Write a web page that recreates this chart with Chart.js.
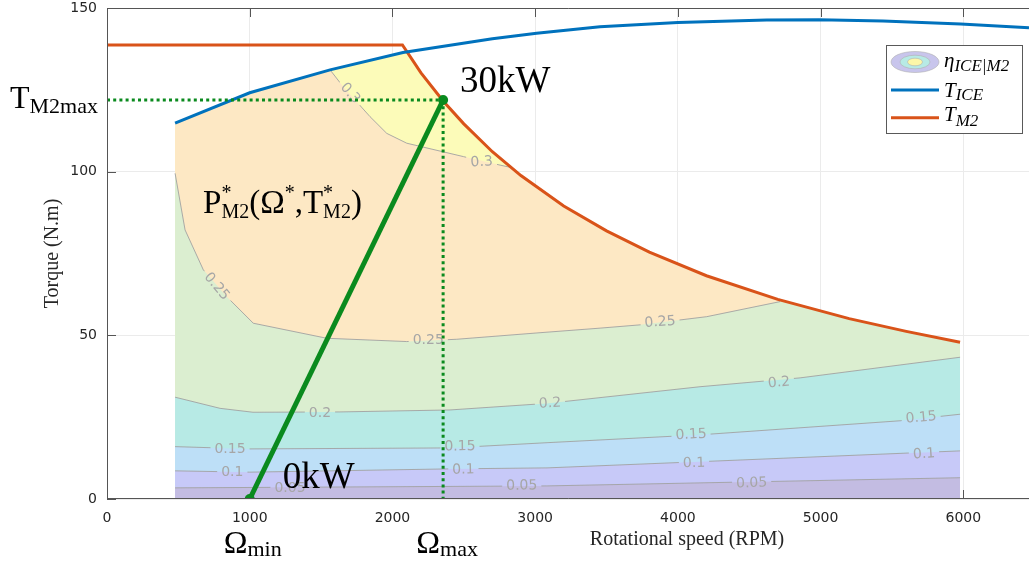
<!DOCTYPE html>
<html>
<head>
<meta charset="utf-8">
<script src="https://cdn.jsdelivr.net/npm/chart.js@4/dist/chart.umd.min.js"></script>
<style>
html,body{margin:0;padding:0;background:#ffffff;}
canvas{display:block;}
</style>
</head>
<body>
<canvas id="c" width="1029" height="565"></canvas>
<script>
// ---------------- data ----------------
const xTicks = [0, 1000, 2000, 3000, 4000, 5000, 6000];
const yTicks = [0, 50, 100, 150];

// ICE torque curve T_ICE
const iceRpm    = [477, 1000, 1563, 2074, 2700, 3010, 3454, 4000, 4622, 4989, 5437, 5981, 6460];
const iceTorque = [114.8, 124.1, 131.1, 136.4, 140.6, 142.3, 144.3, 145.6, 146.3, 146.4, 146.0, 145.1, 144.0];

// M2 torque curve T_M2 (flat then 30 kW constant power)
const m2Rpm    = [0, 2070, 2200, 2355, 2500, 2700, 2900, 3200, 3500, 3800, 4200, 4700, 5200, 5600, 5977];
const m2Torque = [138.7, 138.7, 130.2, 121.6, 114.6, 106.1, 98.8, 89.5, 81.9, 75.4, 68.2, 61.0, 55.1, 51.2, 47.9];

// upper border of the efficiency map
const mapTopRpm    = [477, 1000, 1563, 2100, 2200, 2355, 2500, 2700, 2900, 3200, 3500, 3800, 4200, 4700, 5200, 5600, 5977];
const mapTopTorque = [114.8, 124.1, 131.1, 136.8, 130.2, 121.6, 114.6, 106.1, 98.8, 89.5, 81.9, 75.4, 68.2, 61.0, 55.1, 51.2, 47.9];

// iso-efficiency lines eta_ICE|M2
const iso30Rpm    = [1563, 1654, 1843, 1960, 2100, 2497, 2754, 2830];
const iso30Torque = [131.1, 126.0, 116.8, 111.7, 108.7, 104.6, 102.0, 101.3];
const iso25Rpm    = [477, 547, 675, 839, 1025, 1540, 2100, 2451, 3034, 3455, 3735, 4202, 4716];
const iso25Torque = [99.5, 82.2, 70.0, 61.8, 53.7, 49.1, 48.1, 48.8, 50.8, 52.2, 53.2, 55.7, 60.3];
const iso20Rpm    = [477, 792, 1023, 1632, 2403, 3083, 4155, 4856, 5977];
const iso20Torque = [31.1, 27.7, 26.5, 26.6, 27.2, 29.2, 34.3, 37.0, 43.3];
const iso15Rpm    = [477, 1000, 2403, 3083, 4155, 5557, 5977];
const iso15Torque = [16.0, 15.3, 15.6, 17.2, 19.6, 23.9, 25.9];
const iso10Rpm    = [477, 1000, 2403, 3083, 4155, 5977];
const iso10Torque = [8.6, 8.2, 9.2, 9.5, 11.4, 14.7];
const iso05Rpm    = [477, 3083, 5977];
const iso05Torque = [3.4, 4.0, 6.5];

// operating segment: 0 kW at Omega_min -> 30 kW at (Omega_max, T_M2max)
const opRpm    = [1000, 2355];
const opTorque = [0, 121.9];

// contour labels (value, rpm, torque, text angle in degrees)
const isoLabelText   = ['0.3','0.3','0.25','0.25','0.25','0.2','0.2','0.2','0.15','0.15','0.15','0.15','0.1','0.1','0.1','0.1','0.05','0.05','0.05'];
const isoLabelRpm    = [1703, 2625, 768, 2251, 3875, 1492, 3104, 4709, 862, 2473, 4092, 5704, 878, 2497, 4113, 5725, 1282, 2906, 4517];
const isoLabelTorque = [123.9, 102.9, 64.9, 48.4, 54.0, 26.2, 29.2, 35.5, 15.3, 16.0, 19.6, 24.8, 8.2, 8.9, 10.9, 13.7, 3.3, 4.0, 4.8];
const isoLabelAngle  = [48, -4, 50, 0, -4, 0, -3, -5, 0, -1, -3, -5, 0, -1, -2, -4, 0, -1, -2];

// ---------------- build chart ----------------
const SERIF = '"Liberation Serif", "DejaVu Serif", serif';
const SANS = '"DejaVu Sans", "Liberation Sans", sans-serif';

function pts(xs, ys) { return xs.map((x, i) => ({x: x, y: ys[i]})); }

const mapTop = pts(mapTopRpm, mapTopTorque);
const iso30 = pts(iso30Rpm, iso30Torque);
const iso25 = pts(iso25Rpm, iso25Torque);
const iso20 = pts(iso20Rpm, iso20Torque);
const iso15 = pts(iso15Rpm, iso15Torque);
const iso10 = pts(iso10Rpm, iso10Torque);
const iso05 = pts(iso05Rpm, iso05Torque);

const peachPoly = mapTop.filter(p => p.x < iso30Rpm[0])
  .concat(iso30, mapTop.filter(p => p.x > iso30Rpm[iso30Rpm.length - 1]));
const greenPoly = iso25.concat(mapTop.filter(p => p.x > iso25Rpm[iso25Rpm.length - 1]));

function fillDs(data, color, order) {
  return {data: data, fill: 'origin', backgroundColor: color, borderColor: 'rgba(0,0,0,0)',
          borderWidth: 0, pointRadius: 0, pointHoverRadius: 0, order: order};
}
function isoDs(data, level, order) {
  return {data: data, fill: false, borderColor: '#a2a2a2', borderWidth: 0.9,
          pointRadius: 0, pointHoverRadius: 0, order: order, isoLevel: level};
}

const GREEN = '#0a8a1e';

const datasets = [
  fillDs(mapTop, '#fcfbb9', 100),
  fillDs(peachPoly, '#fde8c4', 99),
  fillDs(greenPoly, '#dbeed0', 98),
  fillDs(iso20, '#b7eae5', 97),
  fillDs(iso15, '#bddff7', 96),
  fillDs(iso10, '#c7c9f8', 95),
  fillDs(iso05, '#c3bce2', 94),
  isoDs(iso30, '0.3', 60),
  isoDs(iso25, '0.25', 59),
  isoDs(iso20, '0.2', 58),
  isoDs(iso15, '0.15', 57),
  isoDs(iso10, '0.1', 56),
  isoDs(iso05, '0.05', 55),
  {label: 'T_M2', data: pts(m2Rpm, m2Torque), borderColor: '#d95319', borderWidth: 3,
   pointRadius: 0, fill: false, order: 11},
  {label: 'T_ICE', data: pts(iceRpm, iceTorque), borderColor: '#0072bd', borderWidth: 3,
   pointRadius: 0, fill: false, order: 10},
  {data: [{x: 0, y: opTorque[1]}, {x: opRpm[1], y: opTorque[1]}], borderColor: GREEN, borderWidth: 3,
   borderDash: [3, 3.2], borderCapStyle: 'butt', pointRadius: 0, fill: false, order: 5},
  {data: [{x: opRpm[1], y: opTorque[1]}, {x: opRpm[1], y: 0}], borderColor: GREEN, borderWidth: 3,
   borderDash: [3, 3.2], borderCapStyle: 'butt', pointRadius: 0, fill: false, order: 4},
  {data: pts(opRpm, opTorque), borderColor: GREEN, borderWidth: 5, pointRadius: 5,
   pointBackgroundColor: GREEN, pointBorderColor: GREEN, pointBorderWidth: 0, fill: false, order: 3}
];

function richText(ctx, x, y, parts) {
  let cx = x;
  let pendingW = 0;
  parts.forEach(p => {
    ctx.font = p.font;
    ctx.fillText(p.t, cx, y + (p.dy || 0));
    const w = ctx.measureText(p.t).width;
    if (p.stack) { pendingW = Math.max(pendingW, w); }
    else { cx += Math.max(w, pendingW); pendingW = 0; }
  });
  return cx - x;
}
function measureRich(ctx, parts) {
  let w = 0, pending = 0;
  parts.forEach(p => {
    ctx.font = p.font;
    const m = ctx.measureText(p.t).width;
    if (p.stack) pending = Math.max(pending, m);
    else { w += Math.max(m, pending); pending = 0; }
  });
  return w;
}

const labelFont = '14px ' + SANS;

const annot = {
  id: 'annot',
  beforeDatasetsDraw(chart) {
    const ctx = chart.ctx, a = chart.chartArea;
    const xs = chart.scales.x, ys = chart.scales.y;
    ctx.save();
    ctx.strokeStyle = '#555555';
    ctx.lineWidth = 1;
    ctx.beginPath();
    xTicks.forEach(v => {
      const px = Math.round(xs.getPixelForValue(v)) + 0.5;
      ctx.moveTo(px, a.top); ctx.lineTo(px, a.top + 9);
      ctx.moveTo(px, a.bottom); ctx.lineTo(px, a.bottom - 9);
    });
    yTicks.forEach(v => {
      const py = Math.round(ys.getPixelForValue(v)) + 0.5;
      ctx.moveTo(a.left, py); ctx.lineTo(a.left + 9, py);
    });
    ctx.stroke();
    ctx.restore();
  },
  beforeDatasetDraw(chart, args) {
    const ds = chart.data.datasets[args.index];
    if (!ds.isoLevel) return;
    const ctx = chart.ctx;
    const xs = chart.scales.x, ys = chart.scales.y;
    ctx.save();
    ctx.font = labelFont;
    ctx.beginPath();
    ctx.rect(0, 0, chart.width, chart.height);
    isoLabelText.forEach((t, i) => {
      if (t !== ds.isoLevel) return;
      const cx = xs.getPixelForValue(isoLabelRpm[i]);
      const cy = ys.getPixelForValue(isoLabelTorque[i]);
      const w = ctx.measureText(t).width + 8, h = 16;
      const ang = isoLabelAngle[i] * Math.PI / 180, c = Math.cos(ang), s = Math.sin(ang);
      const cs = [[-w/2, -h/2], [w/2, -h/2], [w/2, h/2], [-w/2, h/2]]
        .map(([u, v]) => [cx + u * c - v * s, cy + u * s + v * c]);
      ctx.moveTo(cs[0][0], cs[0][1]);
      for (let k = 1; k < 4; k++) ctx.lineTo(cs[k][0], cs[k][1]);
      ctx.closePath();
    });
    ctx.clip('evenodd');
  },
  afterDatasetDraw(chart, args) {
    const ds = chart.data.datasets[args.index];
    if (!ds.isoLevel) return;
    const ctx = chart.ctx;
    ctx.restore();
    const xs = chart.scales.x, ys = chart.scales.y;
    ctx.save();
    ctx.font = labelFont;
    ctx.fillStyle = '#a6a6a6';
    ctx.textAlign = 'center';
    ctx.textBaseline = 'middle';
    isoLabelText.forEach((t, i) => {
      if (t !== ds.isoLevel) return;
      ctx.save();
      ctx.translate(xs.getPixelForValue(isoLabelRpm[i]), ys.getPixelForValue(isoLabelTorque[i]));
      ctx.rotate(isoLabelAngle[i] * Math.PI / 180);
      ctx.fillText(t, 0, 0);
      ctx.restore();
    });
    ctx.restore();
  },
  afterDatasetsDraw(chart) {
    const ctx = chart.ctx, a = chart.chartArea;
    const xs = chart.scales.x, ys = chart.scales.y;
    ctx.save();
    // axes box (left, bottom, top)
    ctx.strokeStyle = '#555555';
    ctx.lineWidth = 1;
    ctx.beginPath();
    const L = Math.round(a.left) + 0.5, B = Math.round(a.bottom) - 0.5, T = Math.round(a.top) + 0.5;
    ctx.moveTo(L, T); ctx.lineTo(L, B); ctx.lineTo(a.right, B);
    ctx.moveTo(L, T); ctx.lineTo(a.right, T);
    ctx.stroke();

    // x axis title
    ctx.fillStyle = '#262626';
    ctx.font = '20px ' + SERIF;
    ctx.textAlign = 'center';
    ctx.textBaseline = 'alphabetic';
    ctx.fillText('Rotational speed (RPM)', xs.getPixelForValue(4064), a.bottom + 46);

    // annotations
    ctx.fillStyle = '#000000';
    ctx.textAlign = 'left';
    const big = '37px ' + SERIF;
    ctx.font = big;
    ctx.fillText('30kW', xs.getPixelForValue(opRpm[1]) + 17, ys.getPixelForValue(opTorque[1]) - 8);
    ctx.fillText('0kW', xs.getPixelForValue(opRpm[0]) + 33, a.bottom - 11);

    // T_M2max on the left of the axis
    richText(ctx, a.left - 97, ys.getPixelForValue(opTorque[1]) + 8, [
      {t: 'T', font: '32px ' + SERIF},
      {t: 'M2max', font: '22px ' + SERIF, dy: 5}
    ]);

    // P*_M2(Omega*, T*_M2)
    const pf = '33px ' + SERIF, sf = '20px ' + SERIF;
    richText(ctx, xs.getPixelForValue(673), ys.getPixelForValue(87.4), [
      {t: 'P', font: pf},
      {t: '*', font: sf, dy: -14, stack: true},
      {t: 'M2', font: sf, dy: 5},
      {t: '(', font: pf},
      {t: 'Ω', font: pf},
      {t: '*', font: sf, dy: -14},
      {t: ',', font: pf},
      {t: 'T', font: pf},
      {t: '*', font: sf, dy: -14, stack: true},
      {t: 'M2', font: sf, dy: 5},
      {t: ')', font: pf}
    ]);

    // Omega_min / Omega_max under the axis
    const omMin = [{t: 'Ω', font: '32px ' + SERIF}, {t: 'min', font: '22px ' + SERIF, dy: 3}];
    const omMax = [{t: 'Ω', font: '32px ' + SERIF}, {t: 'max', font: '22px ' + SERIF, dy: 3}];
    richText(ctx, xs.getPixelForValue(opRpm[0]) + 3 - measureRich(ctx, omMin) / 2, a.bottom + 54, omMin);
    richText(ctx, xs.getPixelForValue(opRpm[1]) + 4 - measureRich(ctx, omMax) / 2, a.bottom + 54, omMax);

    // legend
    const lx = a.right - 143, ly = a.top + 37, lw = 136, lh = 88;
    ctx.fillStyle = '#ffffff';
    ctx.fillRect(lx, ly, lw, lh);
    ctx.strokeStyle = '#595959';
    ctx.lineWidth = 1;
    ctx.strokeRect(lx + 0.5, ly + 0.5, lw, lh);
    const ex = lx + 29, ey = ly + 17;
    const ell = (rx, ry, fill) => {
      ctx.beginPath(); ctx.ellipse(ex, ey, rx, ry, 0, 0, Math.PI * 2);
      ctx.fillStyle = fill; ctx.fill();
      ctx.strokeStyle = '#b0b0b0'; ctx.lineWidth = 0.6; ctx.stroke();
    };
    ell(24, 10.5, '#c8c5ec');
    ell(15, 6.8, '#b7eae5');
    ell(7.5, 3.8, '#fcf7a8');
    ctx.lineWidth = 3;
    ctx.strokeStyle = '#0072bd';
    ctx.beginPath(); ctx.moveTo(lx + 5, ly + 45); ctx.lineTo(lx + 53, ly + 45); ctx.stroke();
    ctx.strokeStyle = '#d95319';
    ctx.beginPath(); ctx.moveTo(lx + 5, ly + 72.7); ctx.lineTo(lx + 53, ly + 72.7); ctx.stroke();
    ctx.fillStyle = '#000000';
    const mi = 'italic 21px ' + SERIF, si = 'italic 17px ' + SERIF;
    richText(ctx, lx + 58, ly + 21.7, [{t: 'η', font: mi}, {t: 'ICE|M2', font: si, dy: 4}]);
    richText(ctx, lx + 58, ly + 51.7, [{t: 'T', font: mi}, {t: 'ICE', font: si, dy: 3.5}]);
    richText(ctx, lx + 58, ly + 75.7, [{t: 'T', font: mi}, {t: 'M2', font: si, dy: 5}]);
    ctx.restore();
  }
};

const tickFont = {family: SANS, size: 14};
const plainTick = v => String(v);

new Chart(document.getElementById('c'), {
  type: 'line',
  data: {datasets: datasets},
  options: {
    responsive: false,
    animation: false,
    devicePixelRatio: 1,
    layout: {autoPadding: false, padding: {top: 8, right: 0, bottom: 0, left: 0}},
    plugins: {legend: {display: false}, tooltip: {enabled: false}},
    elements: {line: {tension: 0}},
    scales: {
      x: {
        type: 'linear', min: 0, max: 6460,
        afterBuildTicks: s => { s.ticks = xTicks.map(v => ({value: v})); },
        afterFit: s => { s.height = 66; s.paddingLeft = 0; s.paddingRight = 0; },
        ticks: {font: tickFont, color: '#262626', padding: 11, maxRotation: 0, autoSkip: false, callback: plainTick},
        grid: {color: '#ebebeb', drawTicks: false, lineWidth: 1},
        border: {display: false}
      },
      y: {
        type: 'linear', min: 0, max: 150,
        afterBuildTicks: s => { s.ticks = yTicks.map(v => ({value: v})); },
        afterFit: s => { s.width = 107; s.paddingTop = 0; s.paddingBottom = 0; },
        ticks: {font: tickFont, color: '#262626', padding: 10, callback: plainTick},
        grid: {color: '#ebebeb', drawTicks: false, lineWidth: 1},
        border: {display: false},
        title: {display: true, text: 'Torque (N.m)', color: '#262626',
                font: {family: SERIF, size: 20}, padding: {top: 41, bottom: 0}}
      }
    }
  },
  plugins: [annot]
});
</script>
</body>
</html>
